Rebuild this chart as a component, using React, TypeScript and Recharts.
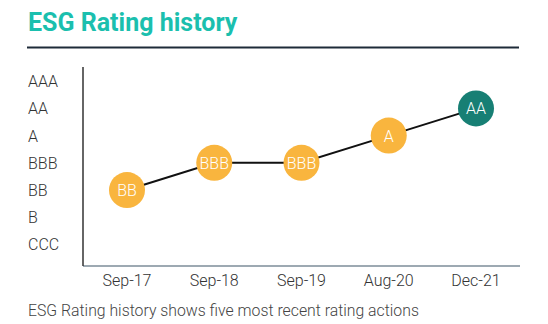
import React from "react";
import { LineChart, Line, XAxis, YAxis } from "recharts";

const ratingScale = ["CCC", "B", "BB", "BBB", "A", "AA", "AAA"];
const dates = ["Sep-17", "Sep-18", "Sep-19", "Aug-20", "Dec-21"];
const ratings = ["BB", "BBB", "BBB", "A", "AA"];
const latestFlags = [false, false, false, false, true];

const data = dates.map((d, i) => ({
  date: d,
  rating: ratings[i],
  value: ratingScale.indexOf(ratings[i]) + 1,
  latest: latestFlags[i],
}));

const FONT = "Roboto, 'Noto Sans', sans-serif";

const YTick = (props: any) => {
  const { y, payload } = props;
  const label = ratingScale[payload.value - 1];
  if (!label) return null;
  return (
    <text x={28} y={y} dy={6} textAnchor="start" fontSize={16} fontWeight={300} fill="#333" fontFamily={FONT}>
      {label}
    </text>
  );
};

const XTick = (props: any) => {
  const { x, y, payload } = props;
  return (
    <text x={x} y={y} dy={12} textAnchor="middle" fontSize={16} fontWeight={300} fill="#333" fontFamily={FONT}>
      {payload.value}
    </text>
  );
};

const RatingDot = (props: any) => {
  const { cx, cy, payload, index } = props;
  const fill = payload.latest ? "#177f74" : "#f9b53e";
  return (
    <g key={`dot-${index}`}>
      <circle cx={cx} cy={cy} r={18} fill={fill} />
      <text x={cx} y={cy} dy={6} textAnchor="middle" fontSize={16} fontWeight={300} fill="#ffffff" fontFamily={FONT}>
        {payload.rating}
      </text>
    </g>
  );
};

export default function App() {
  return (
    <div style={{ position: "absolute", left: 0, top: 0, width: 548, height: 324, background: "#fff" }}>
      <svg width={548} height={324} style={{ position: "absolute", left: 0, top: 0 }}>
        <text x={28} y={31} fontSize={25} fontWeight={700} fill="#1bbfae" fontFamily={FONT}>
          ESG Rating history
        </text>
        <line x1={27} x2={519} y1={47.5} y2={47.5} stroke="#1e2b38" strokeWidth={2} />
        <text x={28} y={316} fontSize={15.8} fontWeight={300} fill="#444" fontFamily={FONT}>
          ESG Rating history shows five most recent rating actions
        </text>
      </svg>
      <div style={{ position: "absolute", left: 0, top: 0 }}>
        <LineChart width={548} height={324} data={data} margin={{ top: 67, right: 28, left: 0, bottom: 28 }}>
          <XAxis
            dataKey="date"
            axisLine={{ stroke: "#7d8c99", strokeWidth: 1.5 }}
            tickLine={false}
            tick={<XTick />}
            height={30}
            interval={0}
            padding={{ left: 44, right: 44 }}
          />
          <YAxis
            type="number"
            domain={[0.21, 7.52]}
            ticks={[1, 2, 3, 4, 5, 6, 7]}
            axisLine={{ stroke: "#333", strokeWidth: 1.5 }}
            tickLine={false}
            tick={<YTick />}
            width={83}
            allowDataOverflow
          />
          <Line
            dataKey="value"
            stroke="#111"
            strokeWidth={2}
            dot={<RatingDot />}
            activeDot={false}
            isAnimationActive={false}
          />
        </LineChart>
      </div>
    </div>
  );
}
